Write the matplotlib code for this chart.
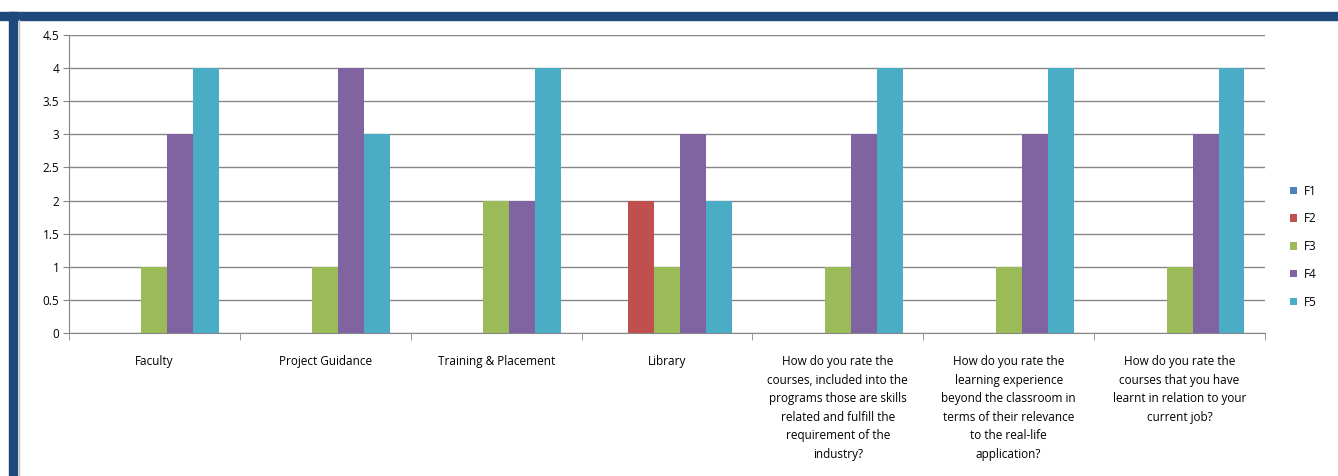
import matplotlib.pyplot as plt
import numpy as np
from matplotlib.patches import Rectangle

categories = [
    'Faculty',
    'Project Guidance',
    'Training & Placement',
    'Library',
    'How do you rate the\ncourses, included into the\nprograms those are skills\nrelated and fulfill the\nrequirement of the\nindustry?',
    'How do you rate the\nlearning experience\nbeyond the classroom in\nterms of their relevance\nto the real-life\napplication?',
    'How do you rate the\ncourses that you have\nlearnt in relation to your\ncurrent job?',
]
series_names = ['F1', 'F2', 'F3', 'F4', 'F5']
f1 = [0, 0, 0, 0, 0, 0, 0]
f2 = [0, 0, 0, 2, 0, 0, 0]
f3 = [1, 1, 2, 1, 1, 1, 1]
f4 = [3, 4, 2, 3, 3, 3, 3]
f5 = [4, 3, 4, 2, 4, 4, 4]
colors = ['#4F81BD', '#C0504D', '#9BBB59', '#8064A2', '#4BACC6']

W, H = 1338, 476
fig = plt.figure(figsize=(W / 100, H / 100), dpi=100)
plt.rcParams['font.family'] = ['Open Sans', 'DejaVu Sans']

# dark blue frame (top band + left band) and inner gray border
fig.patches.append(Rectangle((0, 1 - 20 / H), 1, 8 / H, transform=fig.transFigure,
                             color='#1F497D', zorder=0))
fig.patches.append(Rectangle((9 / W, 0), 8 / W, 1 - 12 / H, transform=fig.transFigure,
                             color='#1F497D', zorder=0))
fig.lines.append(plt.Line2D([19 / W, 19 / W], [0, 1 - 20 / H], transform=fig.transFigure,
                            color='#BFBFBF', lw=1))

ax = fig.add_axes([69 / W, 1 - 333 / H, (1265 - 69) / W, (333 - 35) / H])
x = np.arange(len(categories))
w = 0.152
for i, (vals, name) in enumerate(zip([f1, f2, f3, f4, f5], series_names)):
    ax.bar(x + (i - 2) * w, vals, w, color=colors[i], label=name, zorder=3)

ax.set_xlim(-0.5, len(categories) - 0.5)
ax.set_ylim(0, 4.5)
yt = np.arange(0, 4.51, 0.5)
ax.set_yticks(yt)
ax.set_yticklabels(['0', '0.5', '1', '1.5', '2', '2.5', '3', '3.5', '4', '4.5'], fontsize=8.5)
ax.grid(axis='y', color='#868686', lw=1, zorder=0)
for s in ['top', 'right']:
    ax.spines[s].set_visible(False)
ax.spines['left'].set_color('#868686')
ax.spines['bottom'].set_color('#868686')
ax.tick_params(axis='y', length=4, color='#868686', pad=3)

ax.set_xticks(x)
ax.set_xticklabels(categories, fontsize=8.5, linespacing=1.55)
ax.tick_params(axis='x', length=0, pad=16)
ax.set_xticks(np.arange(-0.5, len(categories) - 0.4, 1), minor=True)
ax.tick_params(axis='x', which='minor', length=5, color='#868686')

leg = ax.legend(loc='center left', bbox_to_anchor=(1.012, 0.29), frameon=False,
                fontsize=8.5, handlelength=0.6, handleheight=0.6, labelspacing=1.25,
                handletextpad=0.6)

fig.savefig('out.png', dpi=100)
